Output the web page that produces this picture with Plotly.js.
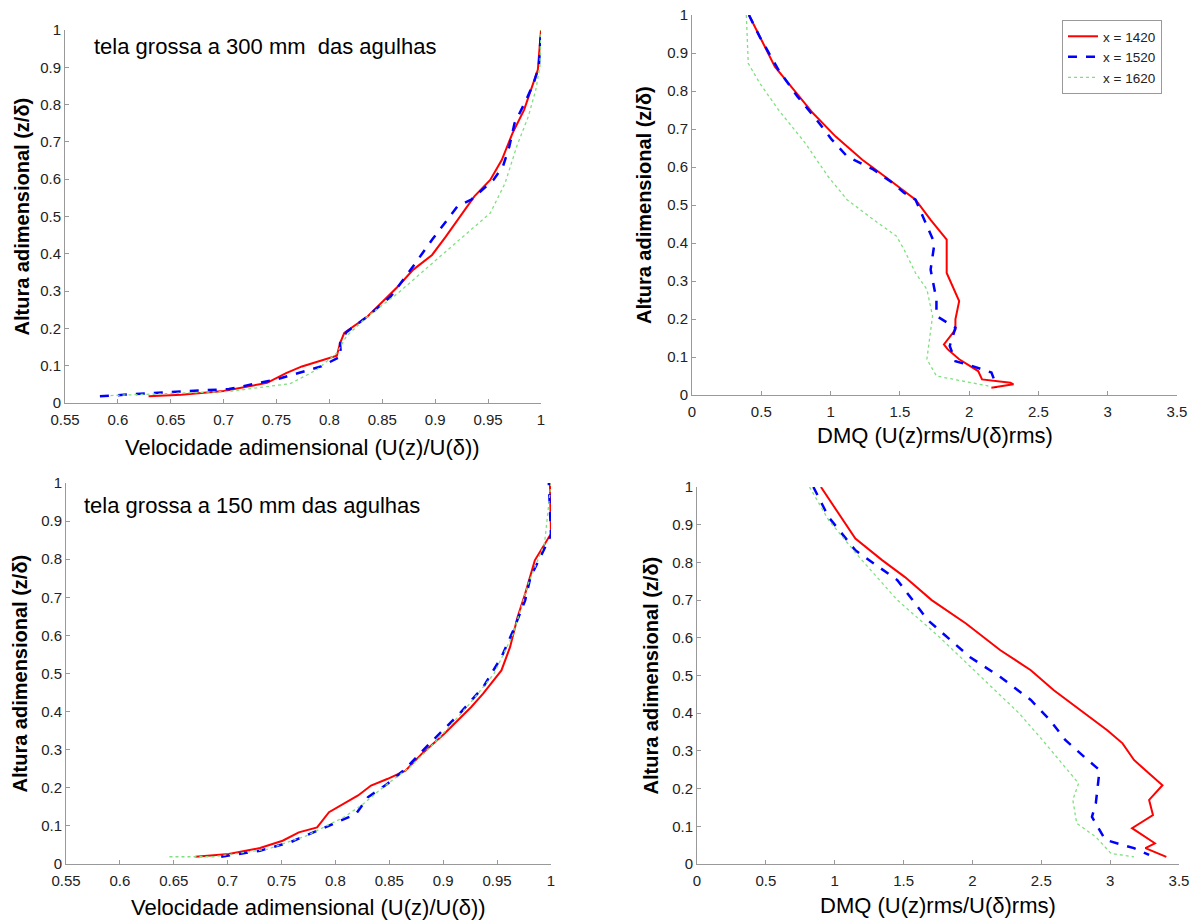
<!DOCTYPE html>
<html>
<head>
<meta charset="utf-8">
<script src="https://cdn.plot.ly/plotly-3.0.1.min.js"></script>
<style>html,body{margin:0;padding:0;background:#fff;}#chart{width:1195px;height:920px;}</style>
</head>
<body>
<div id="chart"></div>
<script>
// ---------- Data ----------
const seriesNames = ["x = 1420", "x = 1520", "x = 1620"];

// Panel 1: velocity, tela grossa a 300 mm
const p1_1420_x = [0.629,0.66,0.70,0.741,0.759,0.774,0.807,0.810,0.814,0.836,0.865,0.879,0.897,0.910,0.937,0.952,0.963,0.973,0.984,0.993,0.997,1.0];
const p1_1420_y = [0.018,0.022,0.032,0.054,0.080,0.098,0.127,0.160,0.188,0.232,0.313,0.357,0.397,0.446,0.554,0.598,0.652,0.723,0.786,0.857,0.893,1.0];
const p1_1520_x = [0.583,0.633,0.705,0.749,0.792,0.811,0.810,0.816,0.836,0.858,0.879,0.897,0.921,0.934,0.955,0.964,0.970,0.975,0.986,0.993,0.998,1.0];
const p1_1520_y = [0.018,0.027,0.0375,0.0625,0.098,0.125,0.160,0.190,0.232,0.286,0.366,0.4375,0.527,0.545,0.598,0.634,0.6875,0.750,0.8125,0.857,0.902,1.0];
const p1_1620_x = [0.593,0.705,0.763,0.788,0.807,0.816,0.836,0.865,0.901,0.923,0.952,0.966,0.977,0.988,0.995,0.999,1.0];
const p1_1620_y = [0.020,0.031,0.052,0.089,0.134,0.179,0.232,0.295,0.384,0.4375,0.509,0.589,0.6875,0.768,0.839,0.902,1.0];

// Panel 2: DMQ, tela grossa a 300 mm
const p2_1420_x = [0.411,0.515,0.598,0.735,0.872,1.037,1.229,1.421,1.530,1.613,1.722,1.838,1.838,1.928,1.901,1.901,1.818,1.846,1.928,2.065,2.093,2.298,2.32,2.16];
const p2_1420_y = [1.0,0.926,0.864,0.803,0.742,0.680,0.619,0.567,0.536,0.514,0.461,0.409,0.321,0.247,0.199,0.172,0.133,0.120,0.094,0.063,0.041,0.032,0.028,0.019];
const p2_1520_x = [0.411,0.488,0.625,0.762,0.900,1.009,1.119,1.311,1.448,1.530,1.613,1.695,1.750,1.722,1.764,1.764,1.901,1.860,1.901,2.024,2.161,2.189,2.19];
const p2_1520_y = [1.0,0.943,0.855,0.785,0.724,0.672,0.628,0.593,0.558,0.532,0.514,0.444,0.400,0.330,0.251,0.208,0.177,0.129,0.089,0.076,0.059,0.032,0.019];
const p2_1620_x = [0.392,0.406,0.488,0.625,0.817,0.982,1.119,1.311,1.476,1.530,1.613,1.695,1.736,1.722,1.695,1.764,1.942,2.134,2.16];
const p2_1620_y = [1.0,0.873,0.821,0.750,0.663,0.575,0.514,0.461,0.418,0.383,0.321,0.278,0.208,0.164,0.094,0.050,0.037,0.024,0.019];

// Panel 3: velocity, tela grossa a 150 mm
const p3_1420_x = [0.670,0.701,0.730,0.751,0.766,0.783,0.794,0.821,0.833,0.848,0.865,0.880,0.901,0.926,0.937,0.954,0.962,0.969,0.976,0.985,1.0,0.999];
const p3_1420_y = [0.019,0.026,0.042,0.061,0.083,0.096,0.136,0.180,0.206,0.223,0.245,0.289,0.342,0.412,0.447,0.508,0.569,0.648,0.709,0.797,0.867,1.0];
const p3_1520_x = [0.694,0.730,0.758,0.790,0.819,0.830,0.848,0.865,0.887,0.915,0.937,0.954,0.965,0.976,0.981,1.0,0.998];
const p3_1520_y = [0.019,0.035,0.057,0.096,0.131,0.175,0.210,0.250,0.315,0.394,0.464,0.543,0.613,0.692,0.753,0.863,1.0];
const p3_1620_x = [0.646,0.687,0.737,0.773,0.808,0.826,0.844,0.869,0.894,0.922,0.947,0.965,0.979,0.994,1.0];
const p3_1620_y = [0.019,0.019,0.039,0.074,0.123,0.158,0.201,0.254,0.324,0.412,0.499,0.604,0.736,0.841,1.0];

// Panel 4: DMQ, tela grossa a 150 mm
const p4_1420_x = [0.900,1.011,1.150,1.344,1.510,1.704,1.953,2.203,2.424,2.591,2.785,2.979,3.090,3.173,3.283,3.380,3.283,3.311,3.159,3.325,3.256,3.408];
const p4_1420_y = [1.0,0.938,0.863,0.806,0.761,0.700,0.638,0.567,0.514,0.461,0.408,0.355,0.320,0.276,0.240,0.209,0.170,0.130,0.095,0.055,0.042,0.019];
const p4_1520_x = [0.845,0.956,1.150,1.455,1.676,1.981,2.203,2.424,2.563,2.674,2.812,2.923,2.896,2.868,2.965,3.173,3.283];
const p4_1520_y = [1.0,0.920,0.832,0.753,0.647,0.549,0.496,0.435,0.382,0.329,0.284,0.249,0.161,0.125,0.064,0.042,0.024];
const p4_1620_x = [0.817,0.956,1.178,1.455,1.760,2.037,2.341,2.508,2.674,2.771,2.729,2.757,2.896,3.006,3.173];
const p4_1620_y = [1.0,0.912,0.814,0.700,0.602,0.505,0.399,0.329,0.258,0.214,0.170,0.108,0.072,0.028,0.019];

// Tick labels
const velTickVals = [0.55,0.6,0.65,0.7,0.75,0.8,0.85,0.9,0.95,1];
const velTickText = ["0.55","0.6","0.65","0.7","0.75","0.8","0.85","0.9","0.95","1"];
const dmqTickVals = [0,0.5,1,1.5,2,2.5,3,3.5];
const dmqTickText = ["0","0.5","1","1.5","2","2.5","3","3.5"];
const hTickVals = [0,0.1,0.2,0.3,0.4,0.5,0.6,0.7,0.8,0.9,1];
const hTickText = ["0","0.1","0.2","0.3","0.4","0.5","0.6","0.7","0.8","0.9","1"];

// Texts
const xTitleVel = "Velocidade adimensional (U(z)/U(δ))";
const xTitleDmq = "DMQ (U(z)rms/U(δ)rms)";
const yTitle = "Altura adimensional (z/δ)";
const label300 = "tela grossa a 300 mm\u00a0 das agulhas";
const label150 = "tela grossa a 150 mm das agulhas";

// ---------- Styles ----------
const W = 1195, H = 920;
const FAM = "Liberation Sans, Arial, sans-serif";
const styles = [
  {color: "#ff0000", width: 2, dash: "solid"},
  {color: "#0000ff", width: 2.5, dash: "dash"},
  {color: "#80e080", width: 1.3, dash: "dot"}
];
const panelData = [
  [[p1_1420_x,p1_1420_y],[p1_1520_x,p1_1520_y],[p1_1620_x,p1_1620_y]],
  [[p2_1420_x,p2_1420_y],[p2_1520_x,p2_1520_y],[p2_1620_x,p2_1620_y]],
  [[p3_1420_x,p3_1420_y],[p3_1520_x,p3_1520_y],[p3_1620_x,p3_1620_y]],
  [[p4_1420_x,p4_1420_y],[p4_1520_x,p4_1520_y],[p4_1620_x,p4_1620_y]]
];
// panel pixel boxes: [left, right, top, bottom]
const boxes = [[65,541,30,403],[692,1177,15,395],[66,551,483,864],[697,1179,487,864]];

const traces = [];
panelData.forEach((pd, i) => {
  const sfx = i === 0 ? "" : String(i + 1);
  pd.forEach((s, j) => {
    traces.push({
      x: s[0], y: s[1], type: "scatter", mode: "lines",
      name: seriesNames[j],
      xaxis: "x" + sfx, yaxis: "y" + sfx,
      line: {color: styles[j].color, width: styles[j].width, dash: styles[j].dash},
      showlegend: i === 1,
      hoverinfo: "skip"
    });
  });
});

const tickFont = {family: FAM, size: 15, color: "#222"};
function xAx(i, isVel) {
  const b = boxes[i];
  return {
    domain: [b[0] / W, b[1] / W],
    anchor: "y" + (i === 0 ? "" : i + 1),
    range: isVel ? [0.55, 1] : [0, 3.5],
    tickmode: "array",
    tickvals: isVel ? velTickVals : dmqTickVals,
    ticktext: isVel ? velTickText : dmqTickText,
    ticks: "inside", ticklen: 4, tickcolor: "#999",
    ticklabelstandoff: 3,
    showline: true, linecolor: "#999", linewidth: 1,
    showgrid: false, zeroline: false,
    tickfont: tickFont, fixedrange: true
  };
}
function yAx(i) {
  const b = boxes[i];
  return {
    domain: [1 - b[3] / H, 1 - b[2] / H],
    anchor: "x" + (i === 0 ? "" : i + 1),
    range: [0, 1],
    tickmode: "array", tickvals: hTickVals, ticktext: hTickText,
    ticks: "inside", ticklen: 4, tickcolor: "#999",
    showline: true, linecolor: "#999", linewidth: 1,
    showgrid: false, zeroline: false,
    tickfont: tickFont, fixedrange: true
  };
}

const xTitleFont = {family: FAM, size: 22, color: "#000"};
const yTitleFont = {family: FAM, size: 20, color: "#000", weight: "bold"};
const annotations = [];
boxes.forEach((b, i) => {
  const isVel = (i === 0 || i === 2);
  const yOff = [44, 40, 43, 41][i];
  const xOff = [43, 48, 47, 47][i];
  annotations.push({
    xref: "paper", yref: "paper",
    x: ((b[0] + b[1]) / 2) / W, y: 1 - (b[3] + yOff) / H,
    xanchor: "center", yanchor: "middle", showarrow: false,
    text: isVel ? xTitleVel : xTitleDmq, font: xTitleFont
  });
  annotations.push({
    xref: "paper", yref: "paper",
    x: (b[0] - xOff) / W, y: 1 - ((b[2] + b[3]) / 2) / H,
    xanchor: "center", yanchor: "middle", showarrow: false, textangle: -90,
    text: yTitle, font: yTitleFont
  });
});
annotations.push({xref: "paper", yref: "paper", x: 92 / W, y: 1 - 46 / H, xanchor: "left", yanchor: "middle",
  showarrow: false, text: label300, font: {family: FAM, size: 22, color: "#000"}});
annotations.push({xref: "paper", yref: "paper", x: 82 / W, y: 1 - 505 / H, xanchor: "left", yanchor: "middle",
  showarrow: false, text: label150, font: {family: FAM, size: 22, color: "#000"}});

const layout = {
  width: W, height: H,
  margin: {l: 0, r: 0, t: 0, b: 0},
  paper_bgcolor: "#fff", plot_bgcolor: "#fff",
  showlegend: true,
  legend: {
    x: 1062 / W, y: 1 - 20 / H, xanchor: "left", yanchor: "top",
    bgcolor: "#fff", bordercolor: "#999", borderwidth: 1,
    font: {family: FAM, size: 13.5, color: "#222"},
    tracegroupgap: 0
  },
  xaxis: xAx(0, true), yaxis: yAx(0),
  xaxis2: xAx(1, false), yaxis2: yAx(1),
  xaxis3: xAx(2, true), yaxis3: yAx(2),
  xaxis4: xAx(3, false), yaxis4: yAx(3),
  annotations: annotations
};

Plotly.newPlot("chart", traces, layout, {staticPlot: true, displayModeBar: false});
</script>
</body>
</html>
